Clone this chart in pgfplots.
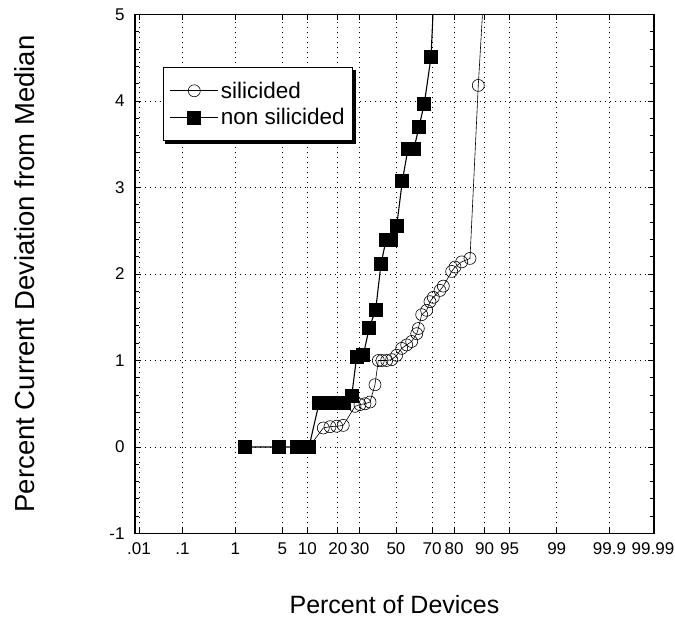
\documentclass[border=0pt]{standalone}
\usepackage{pgfplots}
\pgfplotsset{compat=1.18}
\usepackage{fontspec}
\setmainfont{Liberation Sans}

\begin{document}
\begin{tikzpicture}
\path[use as bounding box] (-135pt,-84.5pt) rectangle (540pt,533.5pt);
\begin{axis}[
  at={(0,0)}, anchor=south west,
  scale only axis, width=519pt, height=519pt,
  xmin=-3.777, xmax=3.734, ymin=-1, ymax=5,
  xtick={-3.719,-3.090,-2.326,-1.645,-1.282,-0.842,-0.524,0,0.524,0.842,1.282,1.645,2.326,3.090,3.719},
  xticklabels={.01,.1,1,5,10,20,30,50,70,80,90,95,99,99.9,99.99},
  ytick={-1,0,1,2,3,4,5},
  minor y tick num=4,
  grid=major,
  major grid style={black, line width=0.7pt, dash pattern=on 1pt off 4pt},
  tick align=inside,
  major tick length=6pt, minor tick length=4pt,
  every tick/.style={black, line width=0.8pt},
  axis line style={line width=1.1pt},
  /pgf/number format/assume math mode=true,
  tick label style={font=\fontsize{17}{20}\selectfont},
  xticklabel style={yshift=-6pt},
  yticklabel style={xshift=-7pt},
  xlabel={Percent of Devices},
  ylabel={Percent Current Deviation from Median},
  xlabel style={font=\fontsize{25}{30}\selectfont, at={(rel axis cs:0.5,0)}, anchor=base, yshift=-80pt},
  ylabel style={font=\fontsize{27.5}{32}\selectfont, at={(axis description cs:-0.212,0.5)}, anchor=center},
  legend style={name=leg, at={(axis cs:-3.37,4.39)}, anchor=north west,
    draw=black, line width=1.2pt, fill=white,
    font=\fontsize{22.5}{27}\selectfont, inner xsep=6pt, inner ysep=12pt,
    row sep=5pt, legend cell align=left},
  legend image code/.code={%
    \draw[#1, mark repeat=2, mark phase=2] plot coordinates {(0pt,0pt) (24pt,0pt) (48pt,0pt)};},
  clip=true,
]
\addplot[black, line width=0.6pt, mark=o, mark size=6pt, mark options={solid, line width=0.6pt}]
coordinates {
(-1.433,0) (-1.346,0) (-1.259,0)
(-1.052,0.22) (-0.955,0.235) (-0.858,0.24) (-0.763,0.25)
(-0.593,0.47) (-0.521,0.49) (-0.449,0.50) (-0.376,0.52)
(-0.304,0.72)
(-0.256,1.0) (-0.203,1.0) (-0.135,1.0) (-0.062,1.01)
(0.010,1.06) (0.082,1.14) (0.155,1.18) (0.227,1.22)
(0.300,1.31) (0.323,1.37) (0.372,1.53) (0.444,1.58)
(0.492,1.68) (0.540,1.73) (0.637,1.81) (0.685,1.86)
(0.806,2.03) (0.854,2.08) (0.951,2.14) (1.071,2.18)
(1.191,4.18) (1.288,5.5)
};
\addlegendentry{silicided}
\addplot[black, line width=1.1pt, mark=square*, mark size=6.5pt, mark options={solid}]
coordinates {
(-2.185,0) (-1.689,0) (-1.433,0) (-1.346,0) (-1.259,0)
(-1.114,0.505) (-1.013,0.505) (-0.926,0.505) (-0.839,0.505) (-0.753,0.51)
(-0.641,0.59)
(-0.569,1.045) (-0.473,1.065)
(-0.386,1.38) (-0.294,1.585)
(-0.217,2.115) (-0.145,2.39) (-0.072,2.39)
(0.010,2.555) (0.091,3.07)
(0.174,3.45) (0.260,3.45)
(0.333,3.70) (0.410,3.97) (0.507,4.51)
(0.564,5.5)
};
\addlegendentry{non silicided}
\end{axis}
\draw[line width=3pt] ([xshift=2pt,yshift=-1.2pt]leg.south west) -- ([xshift=1.2pt,yshift=-1.2pt]leg.south east) -- ([xshift=1.2pt,yshift=-3pt]leg.north east);
\end{tikzpicture}
\end{document}
